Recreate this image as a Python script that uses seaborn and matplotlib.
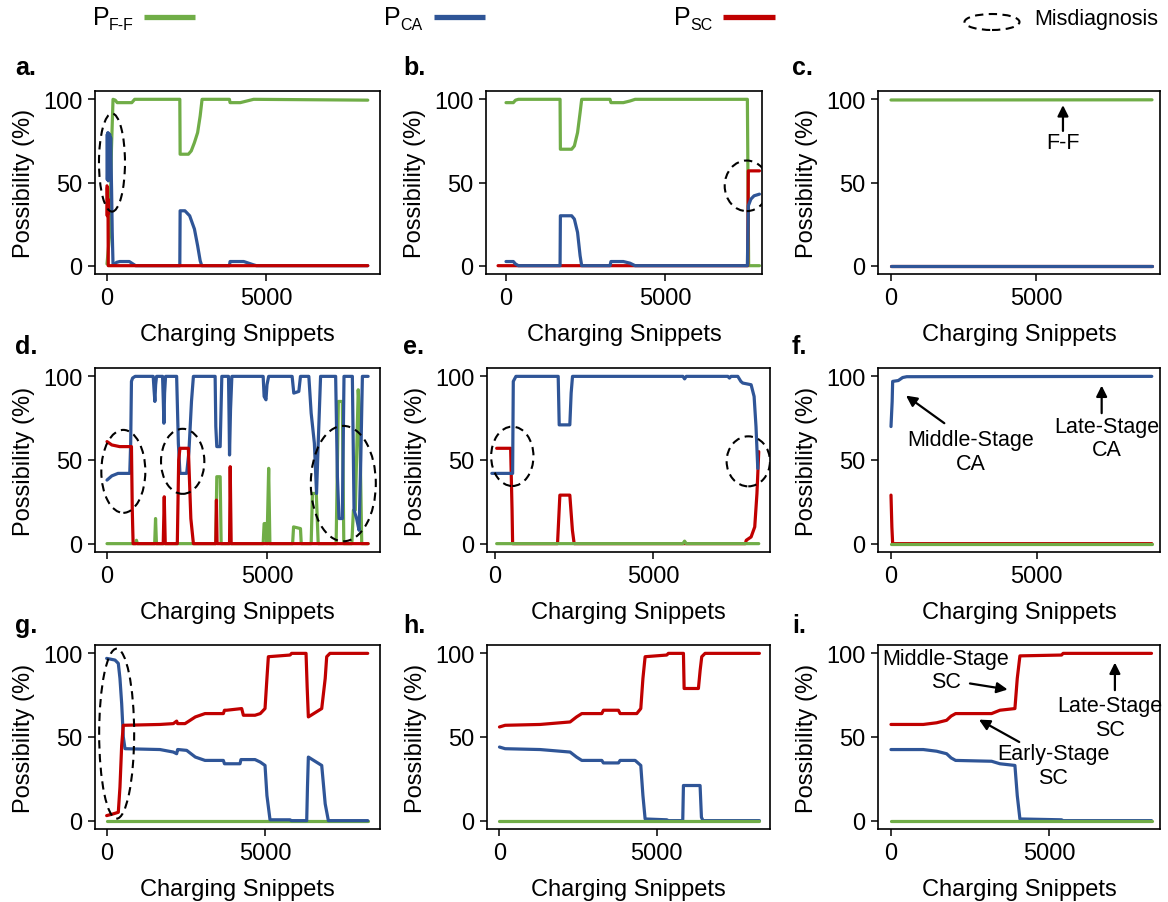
import matplotlib
matplotlib.use("Agg")
import matplotlib.pyplot as plt
import seaborn as sns
from matplotlib.patches import Ellipse
from matplotlib.lines import Line2D

# ---------------- data ----------------
# panel a
a_ff_x = [0, 90, 140, 190, 260, 320, 780, 870, 2290, 2300, 2560, 2650, 2750, 2850, 2930, 2990, 3850, 3870, 4190, 4610, 8200]
a_ff_y = [1, 20, 70, 100, 99.5, 98, 98, 100, 100, 67, 67, 69, 74, 80, 90, 100, 100, 98, 98, 100, 99.5]
a_ca_x = [0, 10, 20, 30, 40, 55, 70, 85, 100, 115, 130, 145, 165, 190, 230, 300, 400, 700, 820, 900, 2290, 2300, 2450, 2600, 2750, 2850, 2930, 2980, 3850, 3870, 4300, 4610, 4700, 8200]
a_ca_y = [52, 79, 54, 80, 51, 78, 55, 79, 53, 77, 60, 45, 20, 0.5, 0.5, 2, 2.5, 2.5, 1, 0, 0, 33, 33, 30, 22, 12, 3, 0, 0, 2.5, 2.5, 0.5, 0, 0]
a_sc_x = [0, 8, 16, 24, 32, 40, 8200]
a_sc_y = [48, 30, 47, 31, 40, 0, 0]
# panel b
b_ff_x = [0, 230, 300, 390, 1700, 1710, 2065, 2150, 2250, 2330, 2380, 3270, 3300, 3690, 3900, 4060, 7590, 7630, 7970]
b_ff_y = [98, 98, 99.5, 100, 100, 70, 70, 72, 80, 92, 100, 100, 98, 98, 99, 100, 100, 0, 0]
b_ca_x = [0, 230, 300, 390, 1700, 1710, 2065, 2150, 2250, 2330, 2380, 3270, 3300, 3690, 3900, 4060, 7590, 7620, 7700, 7800, 7970]
b_ca_y = [2.5, 2.5, 1, 0, 0, 30, 30, 28, 20, 6, 0, 0, 2.5, 2.5, 1.5, 0, 0, 36, 40, 42, 43]
b_sc_x = [-250, 7600, 7620, 7970]
b_sc_y = [0, 0, 57, 57]
# panel c
c_ff_x = [0, 9000]
c_ff_y = [99.6, 99.7]
c_ca_x = [0, 9000]
c_ca_y = [0, 0]
c_sc_x = [0, 9000]
c_sc_y = [0, 0]
# panel d
d_ff_x = [0, 890, 920, 950, 1490, 1517, 1545, 3400, 3431, 3536, 3567, 4880, 4910, 4968, 5000, 5052, 5090, 5800, 5830, 6046, 6070, 6380, 6420, 6540, 6600, 7160, 7230, 7354, 7400, 7650, 7700, 7760, 7850, 7890, 7960, 8160]
d_ff_y = [0, 0, 2, 0, 0, 15, 0, 0, 40, 40, 0, 0, 12, 12, 0, 45, 0, 0, 10, 9, 0, 0, 30, 30, 0, 0, 85, 85, 0, 0, 20, 20, 92, 80, 0, 0]
d_ca_x = [0, 150, 345, 711, 740, 764, 800, 880, 1444, 1470, 1496, 1520, 1548, 1736, 1760, 1778, 1800, 1830, 2176, 2230, 2280, 2490, 2560, 2640, 2700,
          3379, 3400, 3431, 3536, 3588, 3797, 3815, 3829, 3860, 3902, 4880, 4910, 4968, 5000, 5052, 5785, 5837, 5994, 6046, 6307, 6380, 6480, 6548,
          6600, 6674, 7145, 7200, 7250, 7354, 7406, 7667, 7720, 7800, 7877, 7930, 7981, 8160]
d_ca_y = [38, 40.5, 42, 42, 60, 97, 99, 100, 100, 92, 85, 95, 100, 100, 85, 72, 90, 100, 100, 60, 42, 42, 55, 85, 100,
          100, 70, 58, 58, 100, 100, 75, 53, 80, 100, 100, 88, 86, 95, 100, 100, 90, 91, 100, 100, 78, 60, 30,
          60, 100, 100, 40, 15, 15, 100, 100, 20, 15, 8, 50, 100, 100]
d_sc_x = [0, 150, 397, 764, 790, 816, 1757, 1789, 1820, 2197, 2240, 2280, 2542, 2620, 2700, 3400, 3420, 3440, 3829, 3850, 3880, 8160]
d_sc_y = [61, 59, 58, 58, 20, 0, 0, 28, 0, 0, 50, 57, 57, 15, 0, 0, 26, 0, 0, 46, 0, 0]
# panel e
e_ff_x = [53, 5947, 6000, 6053, 8347]
e_ff_y = [0, 0, 1.5, 0, 0]
e_ca_x = [-100, 558, 579, 663, 2000, 2032, 2368, 2410, 2453, 5947, 6000, 6053, 7368, 7420, 7470, 7684, 7780, 7842, 8105, 8200, 8260, 8316]
e_ca_y = [42, 42, 97, 100, 100, 71, 71, 90, 100, 100, 98.5, 100, 100, 99, 100, 100, 97, 96, 95, 88, 70, 45]
e_sc_x = [53, 495, 540, 558, 1979, 2053, 2368, 2450, 2505, 7926, 7950, 8105, 8220, 8290, 8347]
e_sc_y = [57, 57, 20, 0, 0, 29, 29, 8, 0, 0, 2, 4, 10, 30, 55]
# panel f
f_ff_x = [0, 8950]
f_ff_y = [0, 0]
f_ca_x = [0, 40, 57, 250, 400, 540, 8950]
f_ca_y = [70, 85, 97, 97.5, 99.3, 99.8, 100]
f_sc_x = [0, 30, 57, 8950]
f_sc_y = [29, 10, 0, 0]
# panel g
g_ff_x = [0, 8242]
g_ff_y = [0, 0]
g_ca_x = [0, 263, 368, 420, 474, 526, 579, 1684, 2105, 2210, 2240, 2263, 2526, 2800, 3105, 3684, 3720, 3790, 4210, 4240, 4316, 4684,
          4850, 5000, 5060, 5158, 5790, 5830, 6316, 6340, 6368, 6790, 6900, 7000, 8242]
g_ca_y = [97, 96, 94, 85, 70, 50, 43, 42.5, 41, 40, 42.5, 42.5, 42, 38, 36, 36, 34, 34, 34, 36.5, 36.5, 36.5,
          35, 33, 15, 0.5, 0.5, 0, 0, 20, 38, 33, 10, 0, 0]
g_sc_x = [0, 200, 368, 420, 474, 526, 1684, 2105, 2210, 2240, 2263, 2474, 2800, 3105, 3684, 3720, 3790, 4263, 4290, 4316, 4684,
          4850, 5000, 5060, 5105, 5790, 5840, 6295, 6330, 6368, 6790, 6900, 6947, 7050, 8242]
g_sc_y = [3, 4, 5, 20, 45, 57, 57.5, 58, 59.5, 58, 58, 58, 62, 64, 64, 66, 66, 67, 65, 63, 63,
          64, 67, 85, 98, 99, 100, 100, 80, 62, 67, 85, 98, 100, 100]
# panel h
h_ff_x = [0, 8263]
h_ff_y = [0, 0]
h_ca_x = [0, 180, 1292, 2245, 2450, 2617, 3252, 3305, 3782, 3835, 4312, 4492, 4560, 4630, 5318, 5370, 5826, 5848, 6377, 6420, 6470, 8263]
h_ca_y = [44, 43, 42.5, 41, 38, 36, 36, 34.5, 34.5, 36, 36, 33, 15, 1, 0.5, 0, 0, 21, 21, 2, 0, 0]
h_sc_x = [0, 180, 1292, 2245, 2450, 2617, 3252, 3305, 3782, 3835, 4365, 4492, 4560, 4630, 5318, 5370, 5848, 5870, 6324, 6380, 6430, 6536, 8263]
h_sc_y = [56, 57, 57.5, 59, 62, 64, 64, 66, 66, 64, 64, 67, 85, 98, 99, 100, 100, 79, 79, 90, 98, 100, 100]
# panel i
i_ff_x = [0, 8232]
i_ff_y = [0, 0]
i_ca_x = [0, 1021, 1442, 1758, 1900, 2042, 3179, 3442, 3916, 3990, 4074, 5389, 5440, 8232]
i_ca_y = [42.5, 42.5, 41.5, 40, 37.5, 36, 35.5, 34, 33, 15, 1, 0.5, 0, 0]
i_sc_x = [0, 1021, 1442, 1758, 1900, 2042, 3179, 3442, 3916, 3990, 4074, 5389, 5440, 8232]
i_sc_y = [57.5, 57.5, 58.5, 60, 62.5, 64, 64, 66, 67, 85, 98.5, 99, 100, 100]

panel_letters = ["a.", "b.", "c.", "d.", "e.", "f.", "g.", "h.", "i."]
series_names = ["P", "P", "P"]
series_subs = ["F-F", "CA", "SC"]
misdiag_label = "Misdiagnosis"
x_label = "Charging Snippets"
y_label = "Possibility (%)"

# ---------------- style ----------------
sns.set_theme(style="ticks")
plt.rcParams["font.family"] = ["Liberation Sans", "DejaVu Sans"]
plt.rcParams["text.color"] = "black"
plt.rcParams["axes.labelcolor"] = "black"
plt.rcParams["xtick.color"] = "black"
plt.rcParams["ytick.color"] = "black"

COL = {"ff": "#70AD47", "ca": "#2F5597", "sc": "#C00000"}
W, H = 1168, 903
fig = plt.figure(figsize=(W / 100, H / 100), dpi=100)

data = {
    "a": {"ff": (a_ff_x, a_ff_y), "ca": (a_ca_x, a_ca_y), "sc": (a_sc_x, a_sc_y)},
    "b": {"ff": (b_ff_x, b_ff_y), "ca": (b_ca_x, b_ca_y), "sc": (b_sc_x, b_sc_y)},
    "c": {"ff": (c_ff_x, c_ff_y), "ca": (c_ca_x, c_ca_y), "sc": (c_sc_x, c_sc_y)},
    "d": {"ff": (d_ff_x, d_ff_y), "ca": (d_ca_x, d_ca_y), "sc": (d_sc_x, d_sc_y)},
    "e": {"ff": (e_ff_x, e_ff_y), "ca": (e_ca_x, e_ca_y), "sc": (e_sc_x, e_sc_y)},
    "f": {"ff": (f_ff_x, f_ff_y), "ca": (f_ca_x, f_ca_y), "sc": (f_sc_x, f_sc_y)},
    "g": {"ff": (g_ff_x, g_ff_y), "ca": (g_ca_x, g_ca_y), "sc": (g_sc_x, g_sc_y)},
    "h": {"ff": (h_ff_x, h_ff_y), "ca": (h_ca_x, h_ca_y), "sc": (h_sc_x, h_sc_y)},
    "i": {"ff": (i_ff_x, i_ff_y), "ca": (i_ca_x, i_ca_y), "sc": (i_sc_x, i_sc_y)},
}
order = {
    "a": ["ff", "ca", "sc"], "b": ["ff", "sc", "ca"], "c": ["sc", "ca", "ff"],
    "d": ["ff", "ca", "sc"], "e": ["sc", "ca", "ff"], "f": ["sc", "ca", "ff"],
    "g": ["ff", "ca", "sc"], "h": ["ca", "sc", "ff"], "i": ["ca", "sc", "ff"],
}
# axes boxes in pixels: left, right, top, bottom
boxes = {
    "a": (95, 380, 92, 275), "b": (486, 762, 92, 275), "c": (878, 1160, 92, 275),
    "d": (95, 380, 369, 553), "e": (487, 770, 369, 553), "f": (878, 1160, 369, 553),
    "g": (95, 380, 646, 830), "h": (487, 770, 646, 830), "i": (878, 1160, 646, 830),
}
letter_pos = {
    "a": (15, 68), "b": (403, 68), "c": (792, 68),
    "d": (15, 347), "e": (403, 347), "f": (792, 347),
    "g": (15, 626), "h": (403, 626), "i": (792, 626),
}
xlims = {
    "a": (-377, 8585), "b": (-629, 8050), "c": (-448, 9276),
    "d": (-375, 8531), "e": (-253, 8703), "f": (-446, 9232),
    "g": (-368, 8630), "h": (-397, 8600), "i": (-410, 8500),
}
ellipses = {
    "a": [(157, 62, 818, 59)],
    "b": [(7569, 48, 1384, 30.4)],
    "d": [(510, 43.2, 1375, 49.6), (2365, 49.2, 1354, 38.9), (7385, 35.9, 2031, 69)],
    "e": [(548, 52.2, 1339, 35.5), (8016, 49.2, 1371, 29.9)],
    "g": [(316, 52, 1105, 101.6)],
}
# (text, text_xy, arrow_tail, arrow_tip)
notes = {
    "c": [("F-F", (5930, 74), (5930, 81), (5930, 96.5))],
    "f": [("Middle-Stage\nCA", (2735, 55), (1830, 72), (515, 88.5)),
          ("Late-Stage\nCA", (7413, 63), (7230, 78), (7230, 94.5))],
    "i": [("Middle-Stage\nSC", (1727, 90), (2495, 82), (3686, 78.4)),
          ("Early-Stage\nSC", (5127, 33), (4053, 47), (2780, 60.4)),
          ("Late-Stage\nSC", (6917, 61.6), (7075, 78), (7075, 94.5))],
}

FS = 17
dash = (0, (4, 2.6))
for k, key in enumerate("abcdefghi"):
    l, r, t, b = boxes[key]
    ax = fig.add_axes([l / W, 1 - b / H, (r - l) / W, (b - t) / H])
    for zi, s in enumerate(order[key]):
        xs, ys = data[key][s]
        sns.lineplot(x=xs, y=ys, ax=ax, color=COL[s], linewidth=2.3,
                     estimator=None, sort=False, legend=False, zorder=2 + zi)
    ax.set_xlim(*xlims[key])
    ax.set_ylim(-5, 105)
    ax.set_xticks([0, 5000])
    ax.set_yticks([0, 50, 100])
    ax.tick_params(labelsize=FS, length=5, width=1.1, pad=4, direction="out")
    ax.tick_params(axis="x", pad=4.5)
    for sp in ax.spines.values():
        sp.set_linewidth(1.2)
        sp.set_color("black")
        sp.set_zorder(6)
    ax.set_xlabel(x_label, fontsize=FS, labelpad=10)
    ax.set_ylabel(y_label, fontsize=FS, labelpad=6)
    for (cx, cy, w, h) in ellipses.get(key, []):
        ax.add_patch(Ellipse((cx, cy), w, h, fill=False, edgecolor="black",
                             linewidth=1.5, linestyle=dash, zorder=7))
    for (txt, txy, tail, tip) in notes.get(key, []):
        ax.text(txy[0], txy[1], txt, ha="center", va="center", fontsize=15.5,
                multialignment="center", linespacing=1.15, zorder=8)
        ax.annotate("", xy=tip, xytext=tail,
                    arrowprops=dict(arrowstyle="-|>", color="black", lw=1.6,
                                    mutation_scale=16, shrinkA=0, shrinkB=0),
                    zorder=8)
    lx, ly = letter_pos[key]
    fig.text(lx / W, 1 - ly / H, panel_letters[k], fontsize=18, weight="bold",
             ha="left", va="center")

# ---------------- top legend ----------------
leg_items = [(93, 109, 144, 195, "ff"), (384, 400, 434, 485, "ca"), (674, 690, 723, 775, "sc")]
for (px, sx, lx0, lx1, s), nm, sub in zip(leg_items, series_names, series_subs):
    fig.text(px / W, 1 - 25 / H, nm, fontsize=18, ha="left", va="baseline")
    fig.text(sx / W, 1 - 29.5 / H, sub, fontsize=11.5, ha="left", va="baseline")
    fig.add_artist(Line2D([lx0 / W, lx1 / W], [1 - 17.7 / H] * 2, color=COL[s],
                          linewidth=3.8, transform=fig.transFigure, solid_capstyle="butt"))
fig.add_artist(Ellipse((992 / W, 1 - 23 / H), 55 / W, 16 / H, fill=False,
                       edgecolor="black", linewidth=1.5, linestyle=dash,
                       transform=fig.transFigure))
fig.text(1034 / W, 1 - 25 / H, misdiag_label, fontsize=15.5, ha="left", va="baseline")

fig.savefig("out.png", dpi=100)
